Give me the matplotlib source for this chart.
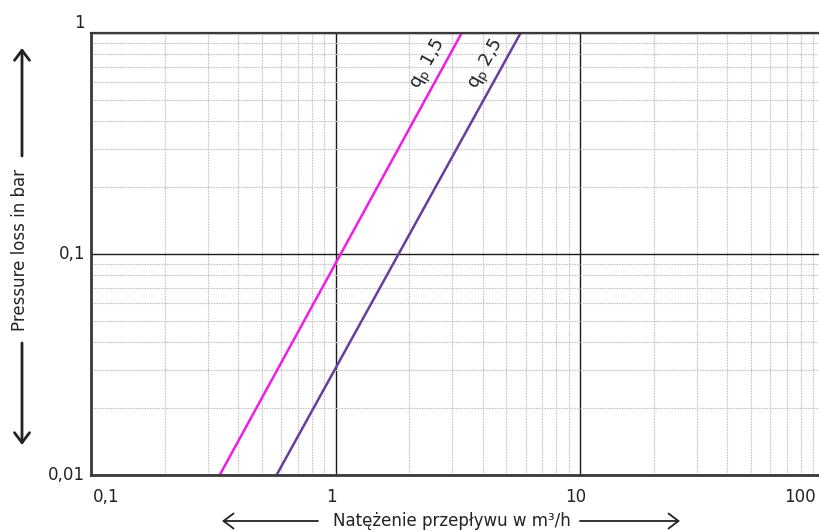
import matplotlib.pyplot as plt
import matplotlib.ticker as tkr
import numpy as np

# values (flow in m3/h, pressure loss in bar)
flow_qp15 = [0.336, 3.28]
loss_qp15 = [0.01, 1.0]
flow_qp25 = [0.574, 5.71]
loss_qp25 = [0.01, 1.0]

series_labels = ["q$_\\mathrm{p}$ 1,5", "q$_\\mathrm{p}$ 2,5"]
label_pos = [(2.42, 0.72), (4.15, 0.72)]
x_ticks = [0.1, 1, 10, 100]
x_tick_labels = ["0,1", "1", "10", "100"]
y_ticks = [0.01, 0.1, 1]
y_tick_labels = ["0,01", "0,1", "1"]

plt.rcParams["font.family"] = "DejaVu Sans"
plt.rcParams["font.size"] = 12

W, H = 819, 531
fig = plt.figure(figsize=(W / 100, H / 100), dpi=100)
ax = fig.add_axes([91 / W, 1 - 475 / H, (W - 91) / W, (475 - 33) / H])

ax.set_xscale("log")
ax.set_yscale("log")
ax.set_xlim(0.1, 94.8)
ax.set_ylim(0.01, 1)

# grid: dotted minor lines, solid decade lines
ax.xaxis.set_minor_locator(tkr.LogLocator(base=10, subs=np.arange(2, 10)))
ax.yaxis.set_minor_locator(tkr.LogLocator(base=10, subs=np.arange(2, 10)))
ax.grid(which="minor", color="#c2c2c2", linewidth=0.8, linestyle=(0, (1.5, 1)))
ax.grid(which="major", color="#1a1a1a", linewidth=1.0, linestyle="-")
ax.tick_params(which="both", length=0, labelbottom=False, labelleft=False)
ax.set_axisbelow(True)

for side in ["left", "bottom", "top"]:
    ax.spines[side].set_color("#3a3a3a")
ax.spines["left"].set_linewidth(2.0)
ax.spines["bottom"].set_linewidth(2.0)
ax.spines["top"].set_linewidth(1.6)
ax.spines["right"].set_visible(False)

# the two curves
ax.plot(flow_qp15, loss_qp15, color="#ee1ee6", linewidth=1.8, solid_capstyle="butt")
ax.plot(flow_qp25, loss_qp25, color="#6a3c9c", linewidth=1.8, solid_capstyle="butt")

for lab, (lx, ly) in zip(series_labels, label_pos):
    ax.text(lx, ly, lab, rotation=61, ha="center", va="center", fontsize=13,
            color="#222222", rotation_mode="anchor")

# tick labels placed as text
for v, s in zip(x_ticks, x_tick_labels):
    xp = ax.transData.transform((v, 0.01))[0] / W
    if s == "0,1":
        fig.text(93 / W, 1 - 497 / H, s, ha="left", va="center", fontsize=12, color="#222222")
    elif s == "100":
        fig.text(800 / W, 1 - 497 / H, s, ha="center", va="center", fontsize=12, color="#222222")
    else:
        fig.text(xp - 4 / W, 1 - 497 / H, s, ha="center", va="center", fontsize=12, color="#222222")

for v, s in zip(y_ticks, y_tick_labels):
    yp = ax.transData.transform((0.1, v))[1] / H
    if s == "1":
        yp = 1 - 23 / H
    fig.text(85 / W, yp, s, ha="right", va="center", fontsize=12, color="#222222")

# axis titles with arrows
fig.text(20 / W, 1 - 250 / H, "Pressure loss in bar", rotation=90, ha="center",
         va="center", fontsize=12, color="#222222")
arrow = dict(arrowstyle="->,head_length=0.6,head_width=0.45", color="#222222", lw=2.0,
             shrinkA=0, shrinkB=0)
ax.annotate("", xy=(22 / W, 1 - 48 / H), xytext=(22 / W, 1 - 156 / H),
            xycoords="figure fraction", textcoords="figure fraction", arrowprops=arrow)
ax.annotate("", xy=(22 / W, 1 - 445 / H), xytext=(22 / W, 1 - 343 / H),
            xycoords="figure fraction", textcoords="figure fraction", arrowprops=arrow)

fig.text(452 / W, 1 - 521 / H, "Natężenie przepływu w m³/h", ha="center",
         va="center", fontsize=12, color="#222222")
arrow_x = dict(arrowstyle="->,head_length=0.6,head_width=0.45", color="#222222", lw=1.3,
               shrinkA=0, shrinkB=0)
ax.annotate("", xy=(222 / W, 1 - 521 / H), xytext=(318 / W, 1 - 521 / H),
            xycoords="figure fraction", textcoords="figure fraction", arrowprops=arrow_x)
ax.annotate("", xy=(680 / W, 1 - 521 / H), xytext=(580 / W, 1 - 521 / H),
            xycoords="figure fraction", textcoords="figure fraction", arrowprops=arrow_x)

fig.savefig("out.png", dpi=100)
